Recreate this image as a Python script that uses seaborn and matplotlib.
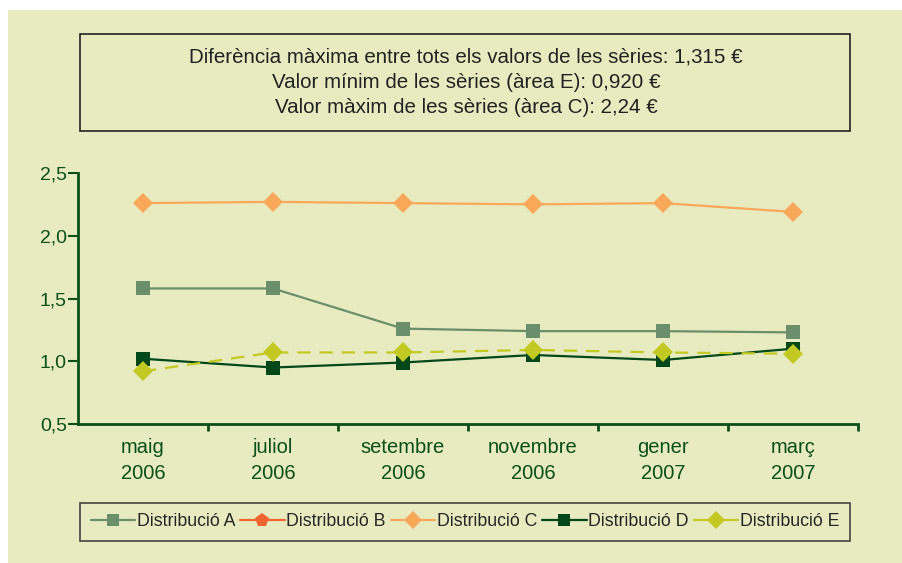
import pandas as pd
import numpy as np
import matplotlib
matplotlib.use('Agg')
import matplotlib.pyplot as plt
from matplotlib.patches import Rectangle
from matplotlib.lines import Line2D
from matplotlib.ticker import FixedLocator
import seaborn as sns

# Dades llegides del gràfic
mesos = ['maig\n2006', 'juliol\n2006', 'setembre\n2006', 'novembre\n2006', 'gener\n2007', 'març\n2007']
dist_a = [1.58, 1.58, 1.26, 1.24, 1.24, 1.23]
dist_b = [np.nan] * 6
dist_c = [2.26, 2.27, 2.26, 2.25, 2.26, 2.19]
dist_d = [1.02, 0.95, 0.99, 1.05, 1.01, 1.10]
dist_e = [0.92, 1.07, 1.07, 1.09, 1.07, 1.06]

noms = ['Distribució A', 'Distribució B', 'Distribució C', 'Distribució D', 'Distribució E']
colors = ['#6b8f6b', '#f26531', '#f9a85a', '#00471a', '#c3c923']
marcadors = ['s', 'p', 'D', 's', 'D']
mides = [10, 11, 10, 10, 10]

titol = ["Diferència màxima entre tots els valors de les sèries: 1,315 €",
         "Valor mínim de les sèries (àrea E): 0,920 €",
         "Valor màxim de les sèries (àrea C): 2,24 €"]

fons = '#e8ebc0'
verd_fosc = '#0b4f1a'

sns.set_style('white')
plt.rcParams['font.family'] = ['Liberation Sans', 'DejaVu Sans']

fig = plt.figure(figsize=(9.03, 5.63), dpi=100)
fig.patch.set_facecolor('white')
fig.patches.append(Rectangle((8 / 903, 0), 1, 1 - 10 / 563, transform=fig.transFigure,
                             facecolor=fons, edgecolor='none', zorder=-10))

ax = fig.add_axes([78 / 903, 1 - 424 / 563, 780 / 903, 251 / 563])
ax.set_facecolor(fons)

df = pd.DataFrame({'mes': mesos, 'A': dist_a, 'B': dist_b, 'C': dist_c, 'D': dist_d, 'E': dist_e})

series = ['A', 'B', 'C', 'D', 'E']
for i, s in enumerate(series):
    if df[s].isna().all():
        continue
    sns.lineplot(data=df, x='mes', y=s, ax=ax, color=colors[i], marker=marcadors[i],
                 markersize=mides[i], markeredgewidth=0, linewidth=1.6,
                 linestyle='--' if s == 'E' else '-', sort=False, zorder=3 + i)

for l in ax.lines:
    if l.get_linestyle() == '--':
        l.set_dashes([6, 4])

ax.set_xlim(-0.5, 5.5)
ax.set_ylim(0.5, 2.5)
ax.set_yticks([0.5, 1.0, 1.5, 2.0, 2.5])
ax.set_yticklabels(['0,5', '1,0', '1,5', '2,0', '2,5'])
ax.set_xticks(range(len(mesos)))
ax.set_xticklabels(mesos, linespacing=1.5)
ax.xaxis.set_minor_locator(FixedLocator(np.arange(0.5, 6, 1)))
ax.set_xlabel('')
ax.set_ylabel('')

for sp in ['top', 'right']:
    ax.spines[sp].set_visible(False)
for sp in ['left', 'bottom']:
    ax.spines[sp].set_color(verd_fosc)
    ax.spines[sp].set_linewidth(2)

ax.tick_params(axis='y', direction='out', length=7, width=1.5, color=verd_fosc,
               labelcolor=verd_fosc, labelsize=14, pad=1, left=True)
ax.tick_params(axis='x', which='major', length=0, labelcolor=verd_fosc, labelsize=14.5, pad=10)
ax.tick_params(axis='x', which='minor', direction='out', length=5, width=2, color=verd_fosc, bottom=True)

# Caixa del títol
fig.patches.append(Rectangle((80 / 903, 1 - 131 / 563), 770 / 903, 97 / 563, transform=fig.transFigure,
                             facecolor='none', edgecolor='#222222', linewidth=1.2))
for k, t in enumerate(titol):
    fig.text(466 / 903, 1 - (57 + 25.5 * k) / 563, t, ha='center', va='center', fontsize=14.8, color='#222222')

# Llegenda
handles = [Line2D([], [], color=colors[i], marker=marcadors[i], markersize=mides[i] - 1,
                  markeredgewidth=0, linewidth=1.6) for i in range(len(noms))]
fig.legend(handles, noms, loc='center', ncol=5, bbox_to_anchor=(80 / 903, 1 - 546 / 563, 770 / 903, 48 / 563),
           mode='expand', frameon=True, fancybox=False, edgecolor='#444444', facecolor=fons,
           fontsize=12.8, handlelength=2.5, handletextpad=0.1, columnspacing=0.3, borderaxespad=0,
           borderpad=0.6, framealpha=1)
fig.legends[0].get_frame().set_linewidth(1.2)

fig.savefig('out.png', dpi=100, facecolor=fig.get_facecolor())
